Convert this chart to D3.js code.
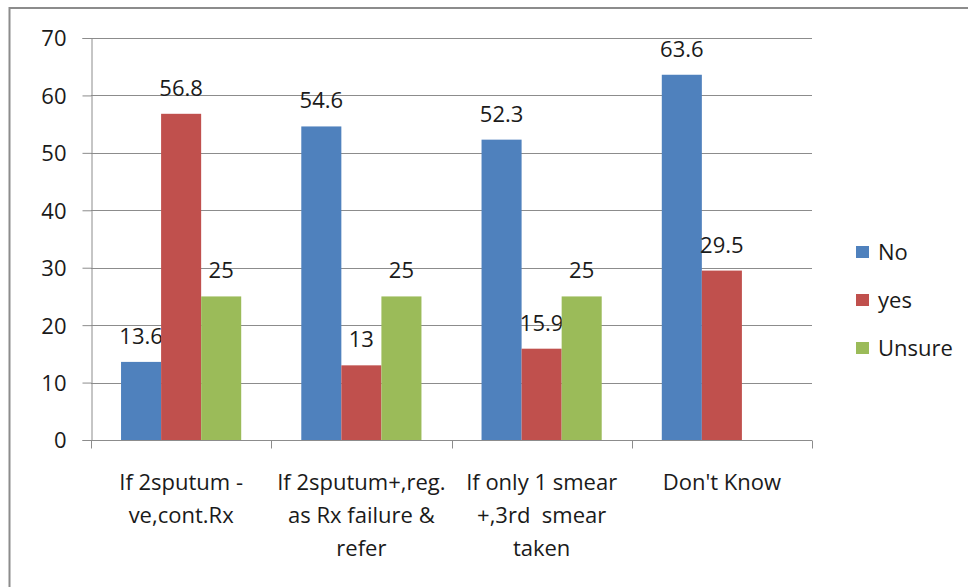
<!DOCTYPE html>
<html>
<head>
<meta charset="utf-8">
<script src="https://cdn.jsdelivr.net/npm/d3@7"></script>
<style>
  html, body { margin: 0; padding: 0; background: #fff; }
  svg text { font-family: "Open Sans", "Liberation Sans", sans-serif; fill: #1a1a1a; }
</style>
</head>
<body>
<svg id="chart" width="968" height="587"></svg>
<script>
// categories, wrapped the way the original labels wrap
var categories = ["c1", "c2", "c3", "c4"];
var categoryLines = [
  ["If 2sputum -", "ve,cont.Rx"],
  ["If 2sputum+,reg.", "as Rx failure &", "refer"],
  ["If only 1 smear", "+,3rd  smear", "taken"],
  ["Don't Know"]
];
var seriesNames = ["No", "yes", "Unsure"];
var noValues = [13.6, 54.6, 52.3, 63.6];
var yesValues = [56.8, 13, 15.9, 29.5];
var unsureValues = [25, 25, 25, null];
var yTicks = [0, 10, 20, 30, 40, 50, 60, 70];
var colors = ["#4F81BD", "#C0504D", "#9BBB59"];

var svg = d3.select("#chart");

// outer chart frame (cut off on right and bottom)
svg.append("rect")
  .attr("x", 9.5).attr("y", 8)
  .attr("width", 1000).attr("height", 700)
  .attr("fill", "none")
  .attr("stroke", "#8c8c8c")
  .attr("stroke-width", 2);

var plotLeft = 91, plotRight = 812, plotTop = 38, plotBottom = 440;

var y = d3.scaleLinear().domain([0, 70]).range([plotBottom, plotTop]);
var x0 = d3.scaleBand().domain(categories).range([plotLeft, plotRight]).padding(0);
var x1 = d3.scaleBand().domain(seriesNames).range([0, x0.bandwidth()])
  .paddingInner(0).paddingOuter(0.75);

// gridlines
svg.append("g").selectAll("line")
  .data(yTicks.filter(function (d) { return d > 0; }))
  .enter().append("line")
  .attr("x1", plotLeft).attr("x2", plotRight)
  .attr("y1", function (d) { return Math.round(y(d)) + 0.5; })
  .attr("y2", function (d) { return Math.round(y(d)) + 0.5; })
  .attr("stroke", "#8c8c8c").attr("stroke-width", 1);

// y axis
var yAxis = svg.append("g")
  .attr("transform", "translate(" + (plotLeft + 0.5) + ",0)")
  .call(d3.axisLeft(y).tickValues(yTicks).tickSize(9).tickPadding(16));
yAxis.select(".domain").attr("stroke", "#8c8c8c");
yAxis.selectAll(".tick line").attr("stroke", "#8c8c8c");
yAxis.selectAll(".tick text")
  .attr("font-size", 22)
  .attr("dy", "0.36em");

// bars
var rows = categories.map(function (c, i) {
  return { cat: c, vals: [noValues[i], yesValues[i], unsureValues[i]] };
});

var groups = svg.append("g").selectAll("g")
  .data(rows)
  .enter().append("g")
  .attr("transform", function (d) { return "translate(" + x0(d.cat) + ",0)"; });

var cells = groups.selectAll("g")
  .data(function (d) {
    return d.vals.map(function (v, j) { return { s: seriesNames[j], v: v, j: j }; })
      .filter(function (e) { return e.v != null; });
  })
  .enter().append("g");

cells.append("rect")
  .attr("x", function (d) { return x1(d.s); })
  .attr("width", x1.bandwidth())
  .attr("y", function (d) { return y(d.v); })
  .attr("height", function (d) { return y(0) - y(d.v); })
  .attr("fill", function (d) { return colors[d.j]; });

cells.append("text")
  .attr("x", function (d) { return x1(d.s) + x1.bandwidth() / 2; })
  .attr("y", function (d) { return y(d.v) - 18; })
  .attr("text-anchor", "middle")
  .attr("font-size", 22)
  .text(function (d) { return d.v; });

// x axis
var xAxis = svg.append("g")
  .attr("transform", "translate(0," + (plotBottom + 0.5) + ")");
xAxis.append("line")
  .attr("x1", plotLeft).attr("x2", plotRight)
  .attr("stroke", "#8c8c8c");
xAxis.selectAll(".xt")
  .data(categories.concat(["end"]))
  .enter().append("line")
  .attr("x1", function (d, i) { return Math.round(i < categories.length ? x0(d) : plotRight) + 0.5; })
  .attr("x2", function (d, i) { return Math.round(i < categories.length ? x0(d) : plotRight) + 0.5; })
  .attr("y1", 0).attr("y2", 8)
  .attr("stroke", "#8c8c8c");

var labels = xAxis.selectAll(".xl")
  .data(categories)
  .enter().append("text")
  .attr("text-anchor", "middle")
  .attr("font-size", 22)
  .style("white-space", "pre")
  .attr("transform", function (d) {
    return "translate(" + (x0(d) + x0.bandwidth() / 2) + ",49)";
  });
labels.selectAll("tspan")
  .data(function (d, i) { return categoryLines[i]; })
  .enter().append("tspan")
  .attr("x", 0)
  .attr("y", function (d, i) { return i * 33; })
  .text(function (d) { return d; });

// legend
var legend = svg.append("g").selectAll("g")
  .data(seriesNames)
  .enter().append("g")
  .attr("transform", function (d, i) { return "translate(856," + (252 + i * 48) + ")"; });
legend.append("rect")
  .attr("x", 0).attr("y", -6)
  .attr("width", 13).attr("height", 12)
  .attr("fill", function (d, i) { return colors[i]; });
legend.append("text")
  .attr("x", 22).attr("y", 0)
  .attr("dy", "0.36em")
  .attr("font-size", 22)
  .text(function (d) { return d; });
</script>
</body>
</html>
